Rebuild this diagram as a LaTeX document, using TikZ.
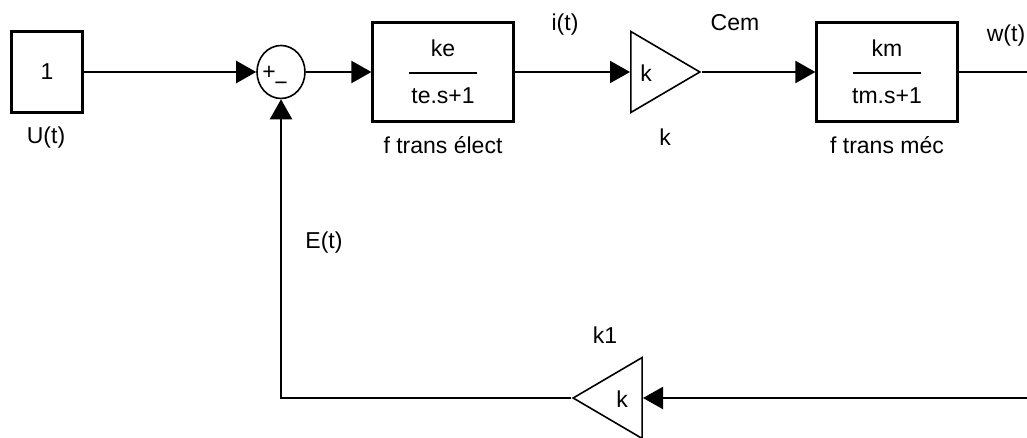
\documentclass[tikz,border=0pt]{standalone}
\usepackage{fontspec}
\setmainfont{Liberation Sans}
\usetikzlibrary{arrows.meta,positioning,shapes.geometric}

\begin{document}
\begin{tikzpicture}[
  x=1pt, y=-1pt, >={Triangle[length=20pt,width=22pt]},
  font=\fontsize{23}{25}\selectfont, line width=2.2pt,
  blk/.style={draw, minimum width=141pt, minimum height=99pt, inner sep=0pt, align=center},
  srcbox/.style={draw, minimum width=71pt, minimum height=81pt, inner sep=0pt},
  sumc/.style={draw, ellipse, line width=1.6pt, minimum width=48pt, minimum height=53pt, inner sep=0pt},
  gain/.style={draw, isosceles triangle, isosceles triangle stretches, line width=1.6pt,
    minimum width=81pt, minimum height=69pt, inner sep=0pt},
  lbl/.style={inner sep=1pt},
]
\useasboundingbox (0,0) rectangle (1027,438);

% blocks
\node[srcbox] (src) at (47,72) {1};
\node[sumc]   (sum) at (281,72) {};
\node[lbl] (plus)  at (269,73) {+};
\node[lbl] (minus) at (281,86) {−};
\node[blk] (tfe) at (443,72) {ke\\[-3pt]\rule[5pt]{68pt}{2pt}\\[0pt]te.s+1};
\node[gain] (gk) at (654,72) {};
\node[lbl] (gkt) at (646,73) {k};
\node[blk] (tfm) at (887,72) {km\\[-3pt]\rule[5pt]{68pt}{2pt}\\[0pt]tm.s+1};
\node[gain, shape border rotate=180] (gk1) at (619,398) {};
\node[lbl] (gk1t) at (622,399) {k};
\coordinate (wout) at (1027,72);
\coordinate (fbin) at (1027,398);

% labels
\node[lbl] (ut)  at (46,138)  {U(t)};
\node[lbl] (fte) at (443,145) {f trans élect};
\node[lbl] (it)  at (565,25)  {i(t)};
\node[lbl] (kg)  at (665,137) {k};
\node[lbl] (cem) at (735,23)  {Cem};
\node[lbl] (ftm) at (887,145) {f trans méc};
\node[lbl] (wt)  at (1006,36) {w(t)};
\node[lbl] (et)  at (324,243) {E(t)};
\node[lbl] (k1)  at (605,335) {k1};

% connections
\draw[->] (src) -- (sum);
\draw[->] (sum) -- (tfe);
\draw[->] (tfe) -- (gk);
\draw[->] (gk) -- (tfm);
\draw (tfm) -- (wout);
\draw[->] (fbin) -- (gk1);
\draw[->] (gk1) -| (sum);
\end{tikzpicture}
\end{document}
